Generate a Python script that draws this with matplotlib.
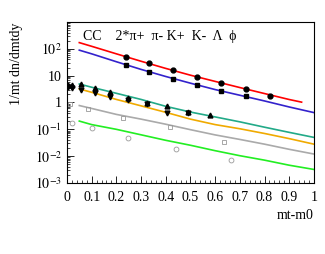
"""mt spectra of identified hadrons (CC): data points and fitted curves, log scale."""
import numpy as np
import matplotlib
matplotlib.use("Agg")
import matplotlib.pyplot as plt
from matplotlib.ticker import FixedLocator, FixedFormatter, MultipleLocator

plt.rcParams["font.family"] = ["Liberation Serif", "DejaVu Serif"]
plt.rcParams["mathtext.fontset"] = "stix"

# fitted curves
x_curve = [0.05, 0.1, 0.2, 0.3, 0.4, 0.5, 0.6, 0.7, 0.8, 0.9, 1.0]
x_pip_curve = [0.05, 0.1, 0.2, 0.3, 0.4, 0.5, 0.6, 0.7, 0.8, 0.9, 0.95]  # red stops early
pip_curve = [170, 124, 65, 34.4, 18.6, 10.4, 6.1, 3.6, 2.15, 1.29, 1.03]
pim_curve = [89, 65, 33, 17.1, 9.3, 5.24, 3.03, 1.86, 1.14, 0.68, 0.42]
kp_curve = [4.9, 3.7, 2.2, 1.3, 0.72, 0.44, 0.29, 0.19, 0.12, 0.077, 0.05]
km_curve = [3.2, 2.4, 1.3, 0.75, 0.43, 0.24, 0.15, 0.105, 0.07, 0.045, 0.028]
lam_curve = [0.77, 0.6, 0.36, 0.24, 0.155, 0.097, 0.062, 0.042, 0.028, 0.018, 0.012]
phi_curve = [0.203, 0.15, 0.1, 0.0625, 0.039, 0.0255, 0.016, 0.0104, 0.0071, 0.0046, 0.0032]

# data points
x_pi = [0.238, 0.332, 0.428, 0.525, 0.623, 0.723, 0.822]
y_pip = [50, 28.6, 15.7, 8.95, 5.2, 3.2, 1.7]
y_pim = [24.9, 14, 7.7, 4.5, 2.6, 1.7]
x_k = [0.003, 0.022, 0.055, 0.113, 0.174, 0.246, 0.324, 0.405, 0.49, 0.58]
y_kp = [4.3, 4.4, 4.9, 3.6, 2.49, 1.41, 0.94, 0.71, 0.445, 0.33]
y_km = [3.9, 3.5, 3.03, 2.21, 1.57, 1.25, 0.85, 0.41, 0.40]
x_lam = [0.012, 0.086, 0.228, 0.417, 0.636]
y_lam = [0.9, 0.58, 0.27, 0.12, 0.035]
x_phi = [0.019, 0.1, 0.246, 0.44, 0.664]
y_phi = [0.171, 0.116, 0.048, 0.018, 0.0069]

x_ticks = [0, 0.1, 0.2, 0.3, 0.4, 0.5, 0.6, 0.7, 0.8, 0.9, 1.0]
x_ticklabels = ["0", "0.1", "0.2", "0.3", "0.4", "0.5", "0.6", "0.7", "0.8", "0.9", "1"]
y_ticks = [1e-3, 1e-2, 1e-1, 1, 10, 1e2, 1e3]
y_ticklabels = ["$10^{-3}$", "$10^{-2}$", "$10^{-1}$", "1", "10", "$10^{2}$", ""]

fig = plt.figure(figsize=(3.25, 2.54), dpi=100)
ax = fig.add_axes([0.206, 0.2795, 0.76, 0.634])

ax.plot(x_pip_curve, pip_curve, color="#ff0000", lw=1.2)
ax.plot(x_curve, pim_curve, color="#3322cc", lw=1.2)
ax.plot(x_curve, kp_curve, color="#22aa88", lw=1.2)
ax.plot(x_curve, km_curve, color="#f0aa00", lw=1.2)
ax.plot(x_curve, lam_curve, color="#aaaaaa", lw=1.2)
ax.plot(x_curve, phi_curve, color="#22ee22", lw=1.2)

ax.plot(x_pi, y_pip, "o", color="k", ms=3.5)
ax.plot(x_pi[:len(y_pim)], y_pim, "s", color="k", ms=3.5)
ax.errorbar(x_k, y_kp, yerr=np.array(y_kp) * 0.1, fmt="^", color="k", ms=3.5,
            elinewidth=0.8, capsize=0)
ax.errorbar(x_k[:len(y_km)], y_km, yerr=np.array(y_km) * 0.1, fmt="v", color="k",
            ms=3.5, elinewidth=0.8, capsize=0)
ax.plot(x_lam, y_lam, "s", mfc="none", mec="#999999", ms=3.5, mew=0.6)
ax.plot(x_phi, y_phi, "o", mfc="none", mec="#999999", ms=3.5, mew=0.6)

ax.set_yscale("log")
ax.set_xlim(0, 1)
ax.set_ylim(1e-3, 1e3)

ax.yaxis.set_major_locator(FixedLocator(y_ticks))
ax.yaxis.set_major_formatter(FixedFormatter(y_ticklabels))
ax.xaxis.set_major_locator(FixedLocator(x_ticks))
ax.xaxis.set_major_formatter(FixedFormatter(x_ticklabels))
ax.xaxis.set_minor_locator(MultipleLocator(0.02))
ax.tick_params(which="both", direction="in", labelsize=10, top=False, right=False)
ax.tick_params(which="major", length=5, width=0.6)
ax.tick_params(which="minor", length=2.5, width=0.5)
ax.tick_params(axis="x", pad=6)
for s in ax.spines.values():
    s.set_linewidth(0.8)

ax.text(0.065, 0.95, "CC    2*π+  π- K+  K-  Λ  ϕ", transform=ax.transAxes,
        fontsize=10, va="top", ha="left")
fig.text(0.965, 0.15, "mt-m0", fontsize=10, ha="right", va="center")
fig.text(0.05, 0.913, "1/mt dn/dmtdy", fontsize=10, rotation=90, ha="center", va="top")

fig.savefig("out.png", dpi=100, facecolor="white")
